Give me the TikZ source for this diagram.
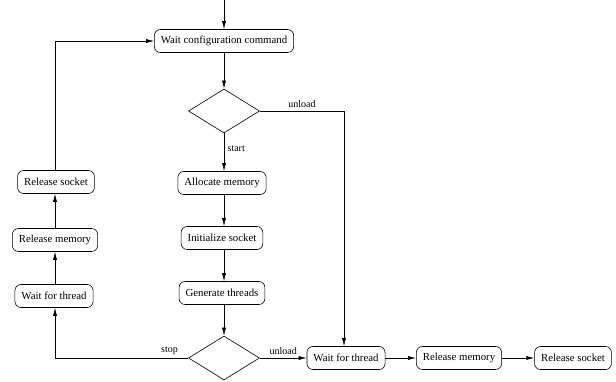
\documentclass[tikz,border=0pt]{standalone}
\usepackage{fontspec}
\setmainfont{Liberation Serif}
\usetikzlibrary{shapes.geometric,arrows.meta}

\begin{document}
\begin{tikzpicture}[x=1pt,y=-1pt,line width=0.6pt,
  box/.style={draw,rounded corners=6pt,minimum height=23pt,inner xsep=6.5pt,font=\fontsize{10.8}{13}\selectfont},
  dec/.style={draw,diamond,minimum width=71pt,minimum height=44pt,inner sep=0pt},
  arr/.style={-{Latex[length=8pt,width=4pt]}},
  lbl/.style={font=\fontsize{10}{12}\selectfont}]
\useasboundingbox (0,0) rectangle (616,382);
\coordinate (top) at (224,0);
% main column
\node[box] (wcc) at (224,41) {Wait configuration command};
\node[dec] (d1) at (224,111) {};
\node[box] (alloc) at (222,183) {Allocate memory};
\node[box] (init) at (222,238) {Initialize socket};
\node[box] (gen) at (222,293) {Generate threads};
\node[dec] (d2) at (224,358) {};
% stop branch
\node[box] (waitL) at (54,296) {Wait for thread};
\node[box] (relmemL) at (55,240) {Release memory};
\node[box] (relsockL) at (56,182) {Release socket};
% unload branch
\node[box] (waitR) at (346,358) {Wait for thread};
\node[box] (relmemR) at (459,358) {Release memory};
\node[box] (relsockR) at (573,358) {Release socket};

\draw[arr] (top) -- (wcc);
\draw[arr] (wcc) -- (d1);
\draw[arr] (d1.south) -- node[lbl,right,pos=0.4]{start} (d1.south |- alloc.north);
\draw[arr] (d1.south |- alloc.south) -- (d1.south |- init.north);
\draw[arr] (d1.south |- init.south) -- (d1.south |- gen.north);
\draw[arr] (d1.south |- gen.south) -- (d2);
\draw[arr] (d1.east) -| node[lbl,above,pos=0.25]{unload} ([xshift=-2pt]waitR.north);
\draw[arr] (d2.east) -- node[lbl,above]{unload} (waitR.west);
\draw[arr] (d2.west) -| node[lbl,above,pos=0.07]{stop} ([xshift=1pt]waitL.south);
\draw[arr] ([xshift=1pt]waitL.north) -- (relmemL);
\draw[arr] (relmemL) -- ([xshift=-1pt]relsockL.south);
\draw[arr] ([xshift=-1pt]relsockL.north) |- (wcc);
\draw[arr] (waitR) -- (relmemR);
\draw[arr] (relmemR) -- (relsockR);
\end{tikzpicture}
\end{document}
